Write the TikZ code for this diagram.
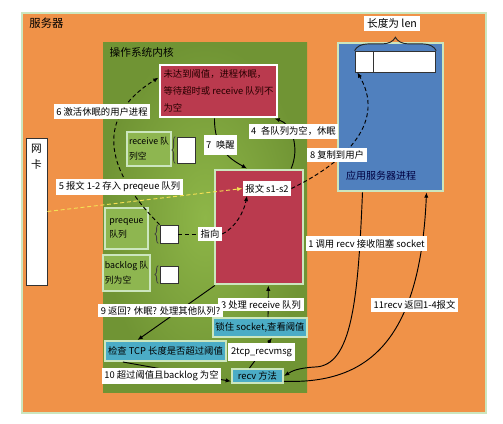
\documentclass[tikz,border=0pt]{standalone}
\usepackage{fontspec}
\setmainfont{Noto Sans CJK SC}
\usetikzlibrary{arrows.meta, positioning, decorations.pathreplacing}

\definecolor{serverorange}{RGB}{240,146,72}
\definecolor{kernellight}{RGB}{142,182,72}
\definecolor{kerneldark}{RGB}{112,148,52}
\definecolor{queuegreen}{RGB}{142,182,80}
\definecolor{paleedge}{RGB}{204,230,190}
\definecolor{msgred}{RGB}{186,58,78}
\definecolor{appblue}{RGB}{80,128,190}
\definecolor{stepteal}{RGB}{75,172,198}
\definecolor{dashyellow}{RGB}{244,224,84}

\begin{document}
\begin{tikzpicture}[
        x=0.75pt, y=-0.75pt,
        % Estilo para el servidor
        serverbox/.style={
                rectangle,
                fill=serverorange,
                draw=paleedge,
                line width=1.2pt,
                minimum width=348pt,
                minimum height=300pt
            },
        % Estilo para el nucleo
        kernelbox/.style={
                rectangle,
                inner color=kernellight,
                outer color=kerneldark,
                minimum width=153pt,
                minimum height=261.75pt
            },
        % Titulos de grupo
        titletext/.style={
                inner sep=0pt,
                font=\fontsize{8.5}{10}\selectfont
            },
        % Cajas rojas
        redbox/.style={
                rectangle,
                fill=msgred,
                line width=2.2pt
            },
        % Colas del nucleo
        queuebox/.style={
                rectangle,
                fill=queuegreen,
                draw=paleedge,
                line width=2pt,
                align=left,
                inner sep=1.5pt,
                font=\fontsize{6.6}{11}\selectfont
            },
        % Huecos blancos
        slotbox/.style={
                rectangle,
                fill=white,
                draw=black!80,
                line width=0.6pt,
                minimum width=13.5pt
            },
        slotbrace/.style={
                decorate,
                decoration={brace, amplitude=2.5pt},
                draw=black!75,
                line width=0.6pt
            },
        % Pasos (turquesa)
        stepbox/.style={
                rectangle,
                fill=stepteal,
                draw=paleedge,
                line width=1.5pt,
                inner sep=1.5pt,
                font=\fontsize{7}{8}\selectfont
            },
        % Etiquetas blancas
        notebox/.style={
                rectangle,
                fill=white,
                inner sep=2pt,
                font=\fontsize{7}{8}\selectfont
            },
        % Flechas
        flow/.style={
                -{Latex[length=4pt, width=3.2pt]},
                line width=0.7pt
            },
        dashflow/.style={
                flow,
                dash pattern=on 3pt off 2pt
            }
    ]

    \fill[white] (0,0) rectangle (503,424);
    \useasboundingbox (0,0) rectangle (503,424);

    % SERVIDOR
    \node[serverbox] (server) at (254,213) {};
    \node[titletext, below right=4pt and 6pt of server.north west] (servertitle) {服务器};

    % NUCLEO
    \node[kernelbox] (kernel) at (205,217.5) {};
    \node[titletext, font=\fontsize{8}{10}\selectfont, below right=3.5pt and 5pt of kernel.north west] (kerneltitle) {操作系统内核};

    % TARJETA DE RED
    \node[rectangle, fill=white, draw=black!80, line width=0.6pt,
        minimum width=15.75pt, minimum height=110.25pt] (nic) at (36.5,211.5) {};
    \node[inner sep=1pt, align=center, font=\fontsize{8}{12}\selectfont,
        below=4pt of nic.north] (nictext) {网\\卡};

    % PROCESO DORMIDO
    \node[redbox, draw=white, minimum width=87.75pt, minimum height=39pt,
        align=left, inner sep=1.5pt, text=black!85!red, font=\fontsize{7}{12.5}\selectfont] (sleep) at (218.5,91)
        {未达到阈值，进程休眠，\\等待超时或 receive 队列不\\为空};

    % PROCESO DE APLICACION
    \node[rectangle, fill=appblue, draw=paleedge, line width=2pt,
        minimum width=78.75pt, minimum height=111pt] (app) at (390.5,117) {};
    \node[inner sep=1pt, text=blue!25!black, font=\fontsize{7.5}{8}\selectfont,
        above=8pt of app.south, xshift=-7pt] (apptext) {应用服务器进程};
    \node[slotbox, minimum height=15.75pt] (buf1) at (364,61.5) {};
    \node[slotbox, minimum width=46.5pt, minimum height=15.75pt, right=0pt of buf1] (buf2) {};
    \draw[decorate, decoration={brace, amplitude=10pt}, draw=black!85, line width=0.7pt]
        (buf1.north west) -- (buf2.north east);
    \node[notebox, font=\fontsize{8}{9}\selectfont] (lenlabel) at (392,23.5) {长度为 len};

    % COLAS
    \node[queuebox, minimum width=33pt, minimum height=25.5pt] (recvq) at (149,149) {receive 队\\列空};
    \node[slotbox, minimum height=19.5pt] (recvw) at (186,150) {};
    \node[queuebox, minimum width=32.25pt, minimum height=30.75pt] (preq) at (126.5,228.5) {preqeue\\队列};
    \node[slotbox, minimum height=13.5pt] (prew) at (169,234) {};
    \node[queuebox, minimum width=35.25pt, minimum height=27pt] (backq) at (126.5,273) {backlog 队\\列为空};
    \node[slotbox, minimum height=12.75pt] (backw) at (169,274.5) {};
    \foreach \s in {recvw, prew, backw}
        \draw[slotbrace] ([xshift=-1pt]\s.south west) -- ([xshift=-1pt]\s.north west);

    % MENSAJES
    \node[redbox, draw=paleedge, minimum width=66pt, minimum height=85.5pt] (msg) at (259,227) {};
    \node[notebox] (msgtxt) at (267,188.5) {报文 s1-s2};
    \node[notebox] (point) at (210,234) {指向};

    % PASOS
    \node[stepbox, minimum width=90.75pt, minimum height=15pt] (chk) at (165.5,351) {检查 TCP 长度是否超过阈值};
    \node[stepbox, minimum width=67.5pt, minimum height=14.25pt] (lock) at (260,327.5) {锁住 socket,查看阈值};
    \node[stepbox, minimum width=38.25pt, minimum height=10.5pt] (recv) at (257.5,376) {recv 方法};

    % CONEXIONES
    \draw[dashflow] (prew.north west) .. controls (110,175) and (90,120) .. ([yshift=10pt]sleep.west);
    \draw[flow] ([xshift=-3pt]sleep.south) .. controls (214,150) and (232,160) .. ([xshift=-9pt]msg.north);
    \draw[flow] ([xshift=-10pt]msg.north east) .. controls (300,148) and (292,124) .. ([xshift=-3pt]sleep.south east);
    \draw[dashflow] (msgtxt.east) .. controls (350,160) and (385,120) .. ([xshift=-5pt]buf1.south);
    \draw[dashflow, color=dashyellow] (nic.east) -- (msgtxt.west);
    \draw[line width=0.7pt, dash pattern=on 3pt off 2pt] (prew.east) -- (point.west);
    \draw[dashflow] (point.east) .. controls (235,228) and (244,212) .. ([xshift=-15pt]msgtxt.south);
    \draw[flow] ([xshift=-21pt]app.south) .. controls (358,300) and (352,366) .. (315,367)
        .. controls (298,368) and (292,371) .. (recv.east);
    \draw[flow] ([yshift=-4pt]recv.east) .. controls (365,384) and (420,345) .. ([xshift=27pt]app.south);
    \draw[flow] ([xshift=6pt]lock.north) -- ([xshift=7pt]msg.south);
    \draw[flow] ([xshift=-6pt]recv.north) -- ([xshift=9pt]lock.south);
    \draw[flow] ([xshift=1pt]msg.south west) -- ([xshift=-21pt]chk.north);
    \draw[flow] ([xshift=-32pt]chk.south) -- ([yshift=-4pt]recv.west);

    % ETIQUETAS
    \node[notebox] (note6) at (102,111.5) {6 激活休眠的用户进程};
    \node[notebox] (note5) at (119.5,187) {5 报文 1-2 存入 preqeue 队列};
    \node[notebox, minimum height=15pt] (note7) at (220.5,145) {7\enspace 唤醒};
    \node[notebox] (note4) at (293.5,131.5) {4\enspace 各队列为空，休眠};
    \node[notebox] (note8) at (337,155) {8 复制到用户};
    \node[notebox] (note1) at (366.5,243.5) {1 调用 recv 接收阻塞 socket};
    \node[notebox] (note11) at (414.5,305) {11recv 返回1-4报文};
    \node[notebox] (note3) at (261,304.5) {3 处理 receive 队列};
    \node[notebox, minimum height=13pt] (note2) at (261.5,352) {2tcp\_recvmsg};
    \node[notebox] (note9) at (160.5,310.5) {9 返回? 休眠? 处理其他队列?};
    \node[notebox] (note10) at (161.5,376) {10 超过阈值且backlog 为空};

\end{tikzpicture}
\end{document}
